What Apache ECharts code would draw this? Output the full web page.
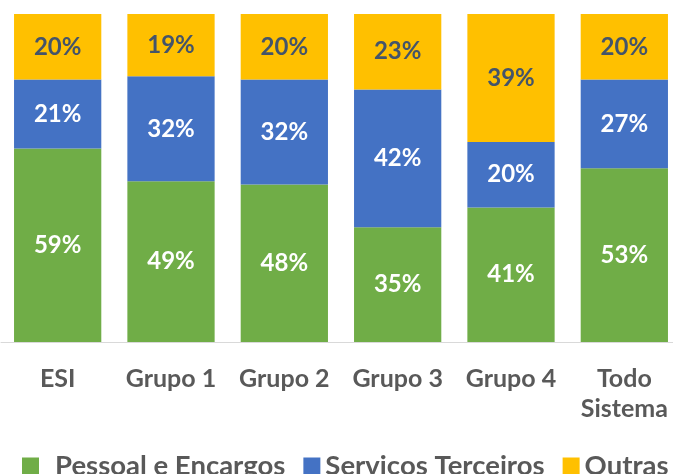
<!DOCTYPE html>
<html>
<head>
<meta charset="utf-8">
<script src="https://cdn.jsdelivr.net/npm/echarts@6/dist/echarts.min.js"></script>
<style>html,body{margin:0;padding:0;background:#fff;overflow:hidden}#c{width:682px;height:474px}</style>
</head>
<body>
<div id="c"></div>
<script>
var categories = ['ESI', 'Grupo 1', 'Grupo 2', 'Grupo 3', 'Grupo 4', 'Todo\nSistema'];
var seriesNames = ['Pessoal e Encargos', 'Serviços Terceiros', 'Outras'];
var pessoal = [59, 49, 48, 35, 41, 53];
var servicos = [21, 32, 32, 42, 20, 27];
var outras = [20, 19, 20, 23, 39, 20];
var colors = ['#70AD47', '#4472C4', '#FFC000'];
var labelColors = ['#FFFFFF', '#FFFFFF', '#44546A'];

var FONT = 'Lato';
var chart = echarts.init(document.getElementById('c'), null, {renderer: 'canvas'});
var values = [pessoal, servicos, outras];
var series = seriesNames.map(function (n, i) {
  return {
    name: n,
    type: 'bar',
    stack: 'total',
    barCategoryGap: '23%',
    data: values[i],
    itemStyle: {color: colors[i]},
    label: {
      show: true,
      position: 'inside',
      formatter: '{c}%',
      color: labelColors[i],
      fontFamily: FONT,
      fontWeight: 'bold',
      fontSize: 24
    }
  };
});
var legendData = seriesNames.map(function (n, i) {
  return i === 0 ? {name: n, textStyle: {padding: [0, 0, 0, 11]}} : {name: n};
});
chart.setOption({
  animation: false,
  color: colors,
  grid: {left: 1, top: 14, right: 1, bottom: 132, containLabel: false},
  legend: {
    data: legendData,
    left: 17,
    top: 447,
    width: 800,
    itemWidth: 17,
    itemHeight: 17,
    itemGap: 18,
    icon: 'rect',
    textStyle: {fontFamily: FONT, fontSize: 27.5, fontWeight: 'bold', color: '#595959'}
  },
  xAxis: {
    type: 'category',
    data: categories,
    axisLine: {lineStyle: {color: '#D9D9D9', width: 1}},
    axisTick: {show: false},
    axisLabel: {
      interval: 0,
      margin: 22,
      fontFamily: FONT,
      fontSize: 25,
      fontWeight: 'bold',
      color: '#595959',
      lineHeight: 30
    }
  },
  yAxis: {
    type: 'value',
    min: 0,
    max: 100,
    show: false,
    splitLine: {show: false}
  },
  series: series
});
</script>
</body>
</html>
